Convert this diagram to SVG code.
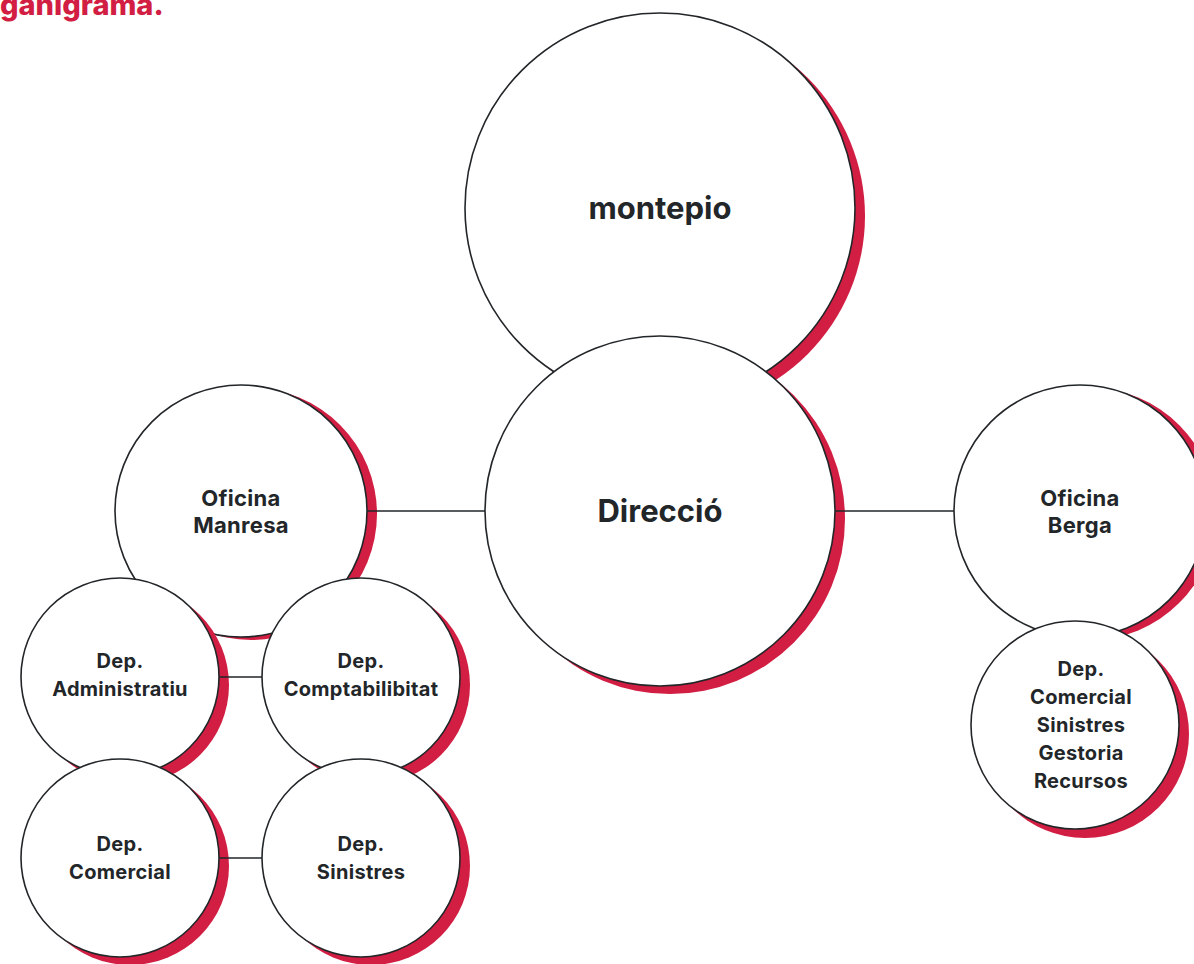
<svg xmlns="http://www.w3.org/2000/svg" width="1194" height="964" viewBox="0 0 1194 964">
<style>
.sh{fill:#d21e43}
.c{fill:#fff;stroke:#222629;stroke-width:1.6}
.t{font-family:Inter,"Noto Sans","Liberation Sans",sans-serif;font-weight:700;fill:#222629;text-anchor:middle}
.big{font-size:31px}
.mid{font-size:22px;letter-spacing:0.3px}
.sm{font-size:20px;letter-spacing:0.3px}
.ln{stroke:#222629;stroke-width:1.6;fill:none}
</style>
<rect width="1194" height="964" fill="#fff"/>
<text x="0" y="15" font-family="Inter,'Noto Sans','Liberation Sans',sans-serif" font-weight="800" font-size="29" fill="#d21e43">ganigrama.</text>
<g id="montepio">
<circle class="sh" cx="670" cy="216" r="195"/>
<circle class="c" cx="660" cy="208" r="195"/>
<text class="t big" x="660" y="219">montepio</text>
</g>
<g id="direccio">
<circle class="sh" cx="670" cy="519" r="175"/>
<circle class="c" cx="660" cy="511" r="175"/>
<text class="t big" x="660" y="522">Direcció</text>
</g>
<g id="oficina-manresa">
<circle class="sh" cx="251" cy="514" r="126"/>
<circle class="c" cx="241" cy="511" r="126"/>
<text class="t mid" x="241" y="506">Oficina</text>
<text class="t mid" x="241" y="533">Manresa</text>
</g>
<g id="oficina-berga">
<circle class="sh" cx="1090" cy="514" r="126"/>
<circle class="c" cx="1080" cy="511" r="126"/>
<text class="t mid" x="1080" y="506">Oficina</text>
<text class="t mid" x="1080" y="533">Berga</text>
</g>
<g id="dep-berga">
<circle class="sh" cx="1085" cy="734" r="104"/>
<circle class="c" cx="1075" cy="725" r="104"/>
<text class="t sm" x="1081" y="676">Dep.</text>
<text class="t sm" x="1081" y="704">Comercial</text>
<text class="t sm" x="1081" y="732">Sinistres</text>
<text class="t sm" x="1081" y="760">Gestoria</text>
<text class="t sm" x="1081" y="788">Recursos</text>
</g>
<g id="dep-administratiu">
<circle class="sh" cx="130" cy="685" r="99"/>
<circle class="c" cx="120" cy="677" r="99"/>
<text class="t sm" x="120" y="668">Dep.</text>
<text class="t sm" x="120" y="696">Administratiu</text>
</g>
<g id="dep-comptabilibitat">
<circle class="sh" cx="371" cy="685" r="99"/>
<circle class="c" cx="361" cy="677" r="99"/>
<text class="t sm" x="361" y="668">Dep.</text>
<text class="t sm" x="361" y="696">Comptabilibitat</text>
</g>
<g id="dep-comercial">
<circle class="sh" cx="130" cy="866" r="99"/>
<circle class="c" cx="120" cy="858" r="99"/>
<text class="t sm" x="120" y="851">Dep.</text>
<text class="t sm" x="120" y="879">Comercial</text>
</g>
<g id="dep-sinistres">
<circle class="sh" cx="371" cy="866" r="99"/>
<circle class="c" cx="361" cy="858" r="99"/>
<text class="t sm" x="361" y="851">Dep.</text>
<text class="t sm" x="361" y="879">Sinistres</text>
</g>
<g id="connectors">
<line class="ln" x1="367" y1="511" x2="485" y2="511"/>
<line class="ln" x1="835" y1="511" x2="954" y2="511"/>
<line class="ln" x1="219" y1="677" x2="262" y2="677"/>
<line class="ln" x1="219" y1="858" x2="262" y2="858"/>
</g>
</svg>
